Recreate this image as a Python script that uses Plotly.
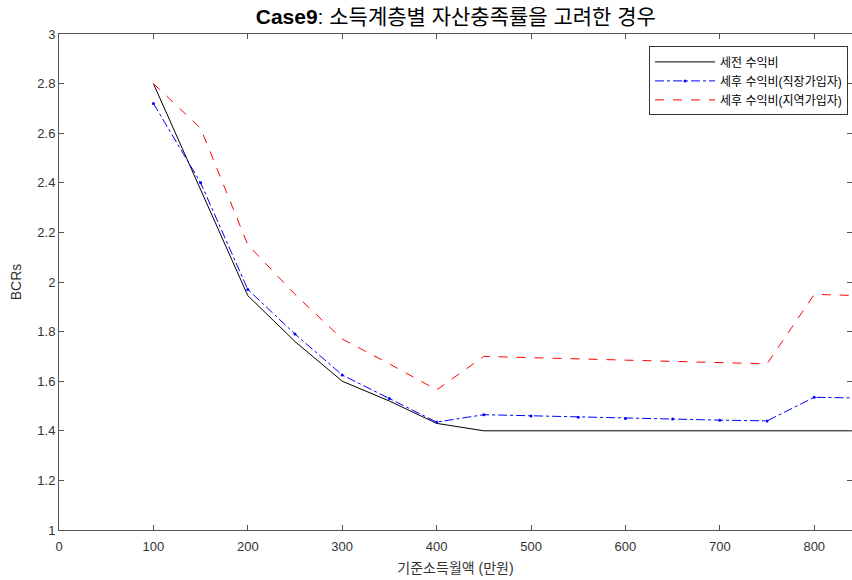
import plotly.graph_objects as go

x = [100, 150, 200, 250, 300, 350, 400, 450, 500, 550, 600, 650, 700, 750, 800, 850]
pre_tax = [2.80, 2.37, 1.945, 1.76, 1.60, 1.52, 1.43, 1.40, 1.40, 1.40, 1.40, 1.40, 1.40, 1.40, 1.40, 1.40]
post_employee = [2.72, 2.40, 1.97, 1.79, 1.625, 1.53, 1.435, 1.465, 1.46, 1.455, 1.45, 1.448, 1.443, 1.44, 1.535, 1.532]
post_regional = [2.80, 2.62, 2.15, 1.95, 1.77, 1.67, 1.565, 1.70, 1.695, 1.69, 1.685, 1.68, 1.675, 1.67, 1.95, 1.945]

names = ["세전 수익비", "세후 수익비(직장가입자)", "세후 수익비(지역가입자)"]
x_ticks = [0, 100, 200, 300, 400, 500, 600, 700, 800]
y_ticks = [1, 1.2, 1.4, 1.6, 1.8, 2, 2.2, 2.4, 2.6, 2.8, 3]

FONT = "Liberation Sans, Noto Sans CJK KR, sans-serif"

fig = go.Figure()
fig.add_trace(go.Scatter(x=x, y=pre_tax, name=names[0], mode="lines",
                         line=dict(color="black", width=1)))
fig.add_trace(go.Scatter(x=x, y=post_employee, name=names[1], mode="lines+markers",
                         line=dict(color="#0000ff", width=1, dash="dashdot"),
                         marker=dict(size=3, color="#0000ff")))
fig.add_trace(go.Scatter(x=x, y=post_regional, name=names[2], mode="lines",
                         line=dict(color="#ff0000", width=1, dash="dash")))

axis_common = dict(showgrid=False, zeroline=False, showline=True, linecolor="#555555",
                   linewidth=1, mirror="ticks", ticks="inside", ticklen=5, automargin=False,
                   tickcolor="#555555", tickfont=dict(size=13, color="#333333", family=FONT))

fig.update_layout(
    width=852, height=580,
    margin=dict(l=59, r=0, t=34, b=50, autoexpand=False),
    paper_bgcolor="white", plot_bgcolor="white",
    font=dict(family=FONT, size=12, color="#333333"),
    title=dict(text="<b>Case9</b>: 소득계층별 자산충족률을 고려한 경우",
               x=0.535, xanchor="center", y=0.972, yanchor="middle",
               font=dict(size=21, color="black", family=FONT)),
    xaxis=dict(range=[0, 840], tickvals=x_ticks, ticklabelstandoff=4,
               title=dict(text="기준소득월액 (만원)", standoff=10, font=dict(size=14)),
               **axis_common),
    yaxis=dict(range=[1, 3], tickvals=y_ticks,
               title=dict(text="BCRs", standoff=12, font=dict(size=14)),
               **axis_common),
    legend=dict(x=0.995, xanchor="right", y=0.975, yanchor="top",
                bordercolor="#333333", borderwidth=1, bgcolor="white",
                font=dict(size=12, color="black"), tracegroupgap=0,
                itemwidth=60),
    showlegend=True,
)

fig.write_html("out.html", config={"displayModeBar": False},
               post_script="document.body.style.margin='0';document.body.style.overflow='hidden';")
